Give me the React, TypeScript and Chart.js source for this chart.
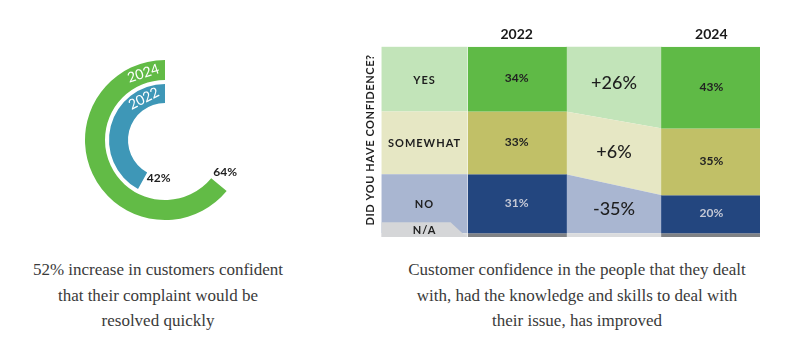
import React, { useEffect, useRef } from 'react';
import { Chart, registerables } from 'chart.js';
Chart.register(...registerables);

// ---------- data ----------
const ringYears = ['2024', '2022'];
const ringValues = [64, 42];

const confidenceCategories = ['YES', 'SOMEWHAT', 'NO', 'N/A'];
const surveyYears = ['2022', '2024'];
const values2022 = [34, 33, 31, 2];
const values2024 = [43, 35, 20, 2];

const axisTitle = 'DID YOU HAVE CONFIDENCE?';
const captionLeft = ['52% increase in customers confident', 'that their complaint would be', 'resolved quickly'];
const captionRight = [
  'Customer confidence in the people that they dealt',
  'with, had the knowledge and skills to deal with',
  'their issue, has improved',
];

// ---------- styles ----------
const ringColors = ['#62bb46', '#3e97b7'];
const strongColors = ['#5fba46', '#c1c067', '#23467f', '#808285'];
const lightColors = ['#c2e4b9', '#e6e7c4', '#a9b6d1', '#dadbdd'];
const valueTextColors = ['#222222', '#222222', '#c5c9d6', '#ffffff'];
const FONT = 'Lato, "Open Sans", sans-serif';

const cumulative = (arr: number[]) =>
  arr.reduce((acc: number[], v) => {
    acc.push(acc[acc.length - 1] + v);
    return acc;
  }, [0]);

const ringLabelPlugin = {
  id: 'ringLabels',
  afterDraw(chart: any) {
    const ctx = chart.ctx;
    const ringDs = [0, 2];
    const valueFrac = [0.4, 0.08];
    const valueGap = [14, 13];
    ringDs.forEach((ds, i) => {
      const arc: any = chart.getDatasetMeta(ds).data[0];
      if (!arc) return;
      const { x, y, startAngle, endAngle, innerRadius, outerRadius } = arc;
      const mid = (innerRadius + outerRadius) / 2;
      const a = endAngle - 22 / mid;
      ctx.save();
      ctx.translate(x + mid * Math.cos(a), y + mid * Math.sin(a));
      ctx.rotate(a + Math.PI / 2);
      ctx.font = `14px ${FONT}`;
      ctx.fillStyle = '#ffffff';
      ctx.textAlign = 'center';
      ctx.textBaseline = 'middle';
      ctx.fillText(ringYears[i], 0, 0);
      ctx.restore();

      const lr = innerRadius + (outerRadius - innerRadius) * valueFrac[i];
      const b = startAngle - valueGap[i] / lr;
      ctx.save();
      ctx.font = `bold 12px ${FONT}`;
      ctx.fillStyle = '#1e1e1e';
      ctx.textAlign = 'center';
      ctx.textBaseline = 'middle';
      ctx.fillText(`${ringValues[i]}%`, x + lr * Math.cos(b), y + lr * Math.sin(b));
      ctx.restore();
    });
  },
};

const tablePlugin = {
  id: 'tableDecor',
  beforeDatasetsDraw(chart: any) {
    const { ctx, chartArea } = chart;
    const yS = chart.scales.y;
    const py = (v: number) => yS.getPixelForValue(v);
    const bar22: any = chart.getDatasetMeta(0).data[0];
    const bar24: any = chart.getDatasetMeta(0).data[2];
    const xa = bar22.x + bar22.width / 2;
    const xb = bar24.x - bar24.width / 2;
    const labelR = bar22.x - bar22.width / 2;
    const labelL = labelR - 85;
    const c22 = cumulative(values2022);
    const c24 = cumulative(values2024);

    for (let k = 0; k < confidenceCategories.length; k++) {
      ctx.fillStyle = lightColors[k];
      ctx.fillRect(labelL, py(c22[k]), labelR - labelL + 1, py(c22[k + 1]) - py(c22[k]));
      ctx.beginPath();
      ctx.moveTo(xa - 1, py(c22[k]));
      ctx.lineTo(xb + 1, py(c24[k]));
      ctx.lineTo(xb + 1, py(c24[k + 1]));
      ctx.lineTo(xa - 1, py(c22[k + 1]));
      ctx.closePath();
      ctx.fill();
    }

    // N/A legend box with cut corner
    const naBottom = py(100);
    const naTop = py(c22[3]) - 11;
    ctx.fillStyle = '#d5d6d8';
    ctx.beginPath();
    ctx.moveTo(labelL, naTop);
    ctx.lineTo(labelR - 16, naTop);
    ctx.lineTo(labelR, naBottom);
    ctx.lineTo(labelL, naBottom);
    ctx.closePath();
    ctx.fill();

    // category labels
    ctx.save();
    ctx.font = `bold 11px ${FONT}`;
    (ctx as any).letterSpacing = '1px';
    ctx.fillStyle = '#1e1e1e';
    ctx.textAlign = 'center';
    ctx.textBaseline = 'middle';
    const cx = (labelL + labelR) / 2 + 0.5;
    for (let k = 0; k < 3; k++) {
      ctx.fillText(confidenceCategories[k], cx, (py(c22[k]) + py(c22[k + 1])) / 2 + 1);
    }
    ctx.fillText(confidenceCategories[3], cx, (naTop + naBottom) / 2 + 1);
    ctx.restore();

    // change labels in the flow column
    ctx.save();
    ctx.font = `500 18px ${FONT}`;
    ctx.fillStyle = '#1e1e1e';
    ctx.textAlign = 'center';
    ctx.textBaseline = 'middle';
    const mx = (xa + xb) / 2;
    for (let k = 0; k < 3; k++) {
      const top = (py(c22[k]) + py(c24[k])) / 2;
      const bot = (py(c22[k + 1]) + py(c24[k + 1])) / 2;
      const ch = Math.round(((values2024[k] - values2022[k]) / values2022[k]) * 100);
      ctx.fillText(`${ch > 0 ? '+' : ''}${ch}%`, mx, (top + bot) / 2);
    }
    ctx.restore();

    // vertical title
    ctx.save();
    ctx.translate(labelL - 11, (chartArea.top + chartArea.bottom) / 2 - 2);
    ctx.rotate(-Math.PI / 2);
    ctx.font = `bold 11px ${FONT}`;
    (ctx as any).letterSpacing = '0.6px';
    ctx.fillStyle = '#1e1e1e';
    ctx.textAlign = 'center';
    ctx.textBaseline = 'middle';
    ctx.fillText(axisTitle, 0, 0);
    ctx.restore();
  },
  afterDatasetsDraw(chart: any) {
    const { ctx } = chart;
    ctx.save();
    ctx.font = `bold 12px ${FONT}`;
    ctx.textAlign = 'center';
    ctx.textBaseline = 'middle';
    for (let k = 0; k < 3; k++) {
      const meta = chart.getDatasetMeta(k);
      [0, 2].forEach((idx) => {
        const bar: any = meta.data[idx];
        if (!bar) return;
        const v = idx === 0 ? values2022[k] : values2024[k];
        ctx.fillStyle = valueTextColors[k];
        ctx.fillText(`${v}%`, bar.x, (bar.y + bar.base) / 2 - 1);
      });
    }
    ctx.restore();
  },
};

export default function App() {
  const donutRef = useRef<HTMLCanvasElement>(null);
  const tableRef = useRef<HTMLCanvasElement>(null);

  useEffect(() => {
    const transparent = 'rgba(0,0,0,0)';
    const donut = new Chart(donutRef.current as HTMLCanvasElement, {
      type: 'doughnut',
      data: {
        labels: ['value', 'rest'],
        datasets: [
          {
            data: [ringValues[0], 100 - ringValues[0]],
            backgroundColor: [ringColors[0], transparent],
            rotation: -ringValues[0] * 3.6,
            weight: 20,
            borderWidth: 0,
          } as any,
          { data: [100], backgroundColor: [transparent], weight: 4, borderWidth: 0 } as any,
          {
            data: [ringValues[1], 100 - ringValues[1]],
            backgroundColor: [ringColors[1], transparent],
            rotation: -ringValues[1] * 3.6,
            weight: 19,
            borderWidth: 0,
          } as any,
        ],
      },
      options: {
        responsive: false,
        animation: false,
        events: [],
        cutout: '46.25%',
        layout: { padding: 20 },
        plugins: { legend: { display: false }, tooltip: { enabled: false } },
      } as any,
      plugins: [ringLabelPlugin],
    });

    const table = new Chart(tableRef.current as HTMLCanvasElement, {
      type: 'bar',
      data: {
        labels: [surveyYears[0], '', surveyYears[1]],
        datasets: confidenceCategories.map((c, k) => ({
          label: c,
          data: [values2022[k], null, values2024[k]],
          backgroundColor: strongColors[k],
          borderWidth: 0,
          barPercentage: 1.03,
          categoryPercentage: 1,
        })) as any,
      },
      options: {
        responsive: false,
        animation: false,
        events: [],
        layout: { padding: { left: 108, right: 32, top: 22, bottom: 13 } },
        plugins: { legend: { display: false }, tooltip: { enabled: false } },
        scales: {
          x: {
            position: 'top',
            stacked: true,
            grid: { display: false, drawTicks: false },
            border: { display: false },
            ticks: { padding: 4, color: '#1a1a1a', font: { family: FONT, size: 14, weight: 'bold' } },
          },
          y: { display: false, stacked: true, min: 0, max: 100, reverse: true },
        },
      } as any,
      plugins: [tablePlugin],
    });

    return () => {
      donut.destroy();
      table.destroy();
    };
  }, []);

  const captionStyle: React.CSSProperties = {
    position: 'absolute',
    top: 257,
    textAlign: 'center',
    fontFamily: '"Liberation Serif", "Times New Roman", serif',
    fontSize: 17,
    lineHeight: '25.5px',
    color: '#3a3a3a',
    whiteSpace: 'nowrap',
  };

  return (
    <div style={{ position: 'absolute', left: 0, top: 0, width: 792, height: 360, background: '#ffffff', overflow: 'hidden' }}>
      <div style={{ position: 'absolute', left: 65, top: 40, width: 200, height: 200 }}>
        <canvas ref={donutRef} width={200} height={200} style={{ width: 200, height: 200, display: 'block' }} />
      </div>
      <div style={{ position: 'absolute', left: 360, top: 0, width: 432, height: 250 }}>
        <canvas ref={tableRef} width={432} height={250} style={{ width: 432, height: 250, display: 'block' }} />
      </div>
      <div style={{ ...captionStyle, left: 0, width: 316 }}>
        {captionLeft.map((l, i) => (
          <div key={i}>{l}</div>
        ))}
      </div>
      <div style={{ ...captionStyle, left: 377, width: 400 }}>
        {captionRight.map((l, i) => (
          <div key={i}>{l}</div>
        ))}
      </div>
    </div>
  );
}
